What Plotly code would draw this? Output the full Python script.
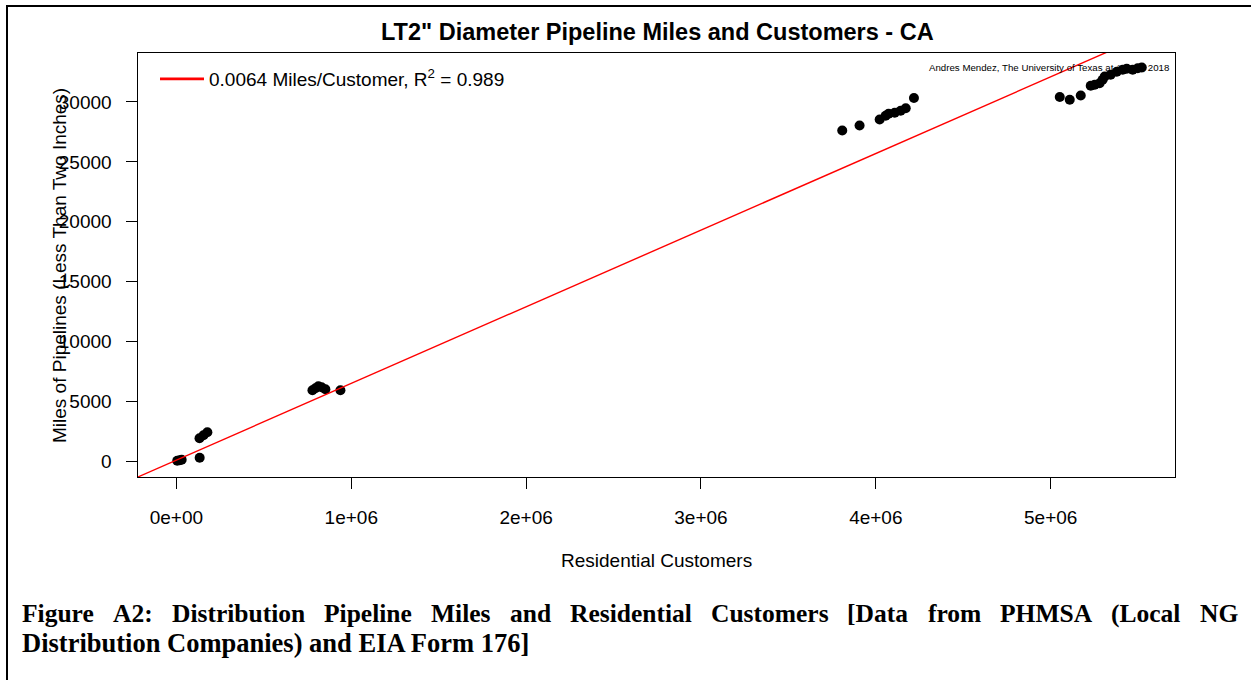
import plotly.graph_objects as go

# ---------------- data ----------------
customers = [4600, 19000, 30000, 133000, 132000, 155000, 177000,
             778000, 795000, 812000, 830000, 852000, 938000,
             3808000, 3907000, 4022000, 4056000, 4073000, 4108000, 4142000, 4171000, 4218000,
             5052000, 5109000, 5172000, 5229000, 5252000, 5280000, 5297000, 5309000,
             5343000, 5378000, 5412000, 5435000, 5469000, 5498000, 5521000]
miles = [42, 84, 125, 293, 1923, 2174, 2425,
         5936, 6104, 6271, 6187, 6020, 5936,
         27617, 28035, 28537, 28846, 29013, 29097, 29264, 29473, 30326,
         30410, 30184, 30544, 31355, 31438, 31564, 31856, 32132,
         32274, 32525, 32692, 32776, 32692, 32818, 32885]

fit_slope = 0.0064
fit_intercept = 100
fit_x = [-400000, 6000000]
fit_y = [fit_slope * v + fit_intercept for v in fit_x]

x_tickvals = [0, 1e6, 2e6, 3e6, 4e6, 5e6]
x_ticktext = ["0e+00", "1e+06", "2e+06", "3e+06", "4e+06", "5e+06"]
y_tickvals = [0, 5000, 10000, 15000, 20000, 25000, 30000]
y_ticktext = ["0", "5000", "10000", "15000", "20000", "25000", "30000"]

title = 'LT2" Diameter Pipeline Miles and Customers - CA'
x_title = "Residential Customers"
y_title = "Miles of Pipelines (Less Than Two Inches)"
legend_label = "0.0064 Miles/Customer, R<sup>2</sup> = 0.989"
credit = "Andres Mendez, The University of Texas at Austin, 2018"
caption_line1 = "Figure A2: Distribution Pipeline Miles and Residential Customers [Data from PHMSA (Local NG"
caption_line2 = "Distribution Companies) and EIA Form 176]"

# ---------------- layout helpers ----------------
W, H = 1251, 680
ML, MR, MT, MB = 138, 76, 53, 203
PW, PH = W - ML - MR, H - MT - MB


def px_x(px):
    return (px - ML) / PW


def px_y(py):
    return (H - MB - py) / PH


SANS = "Liberation Sans, Arial, sans-serif"
SERIF = "Liberation Serif, Times New Roman, serif"
NBSP = "\u00a0"

# Times-Bold glyph widths (per 1000 em) for the justified caption
TB = {' ': 250, '(': 333, ')': 333, '[': 333, ']': 333, ':': 333,
      'A': 722, 'C': 722, 'D': 722, 'E': 667, 'F': 611, 'G': 778, 'H': 778, 'I': 389,
      'L': 667, 'M': 944, 'N': 722, 'P': 611, 'R': 722, 'S': 556,
      'a': 500, 'b': 556, 'c': 444, 'd': 556, 'e': 444, 'f': 333, 'g': 500, 'h': 556,
      'i': 278, 'l': 278, 'm': 833, 'n': 556, 'o': 500, 'p': 556, 'r': 444,
      's': 389, 't': 333, 'u': 556}
for d in "0123456789":
    TB[d] = 500


def word_w(w, size):
    return sum(TB.get(c, 500) for c in w) / 1000 * size


fig = go.Figure()

fig.add_trace(go.Scatter(
    x=customers, y=miles, mode="markers",
    marker=dict(color="black", size=10, line=dict(width=0)),
    showlegend=False, hoverinfo="x+y"))

fig.add_trace(go.Scatter(
    x=fit_x, y=fit_y, mode="lines",
    line=dict(color="#ff0000", width=1.4),
    name=legend_label, showlegend=False, legendgroup="fit"))

# legend entry (thicker sample line, like the reference legend)
fig.add_trace(go.Scatter(
    x=[None], y=[None], mode="lines",
    line=dict(color="#ff0000", width=2.6),
    name=legend_label, showlegend=True, legendgroup="fit"))

annotations = [
    dict(text="<b>" + title + "</b>", x=px_x(657), y=px_y(32), xref="paper", yref="paper",
         showarrow=False, xanchor="center", yanchor="middle",
         font=dict(family=SANS, size=23.5, color="black")),
    dict(text=x_title, x=px_x(656.5), y=px_y(560), xref="paper", yref="paper",
         showarrow=False, xanchor="center", yanchor="middle",
         font=dict(family=SANS, size=19, color="black")),
    dict(text=y_title, x=px_x(59), y=px_y(266), xref="paper", yref="paper",
         showarrow=False, xanchor="center", yanchor="middle", textangle=-90,
         font=dict(family=SANS, size=19, color="black")),
    dict(text=credit, x=px_x(1171), y=px_y(67), xref="paper", yref="paper",
         showarrow=False, xanchor="right", yanchor="middle",
         font=dict(family=SANS, size=9.7, color="black")),
]

# justified caption line 1
cap_size = 25.5
words = caption_line1.split(" ")
widths = [word_w(w, cap_size) for w in words]
left, right = 22, 1238
gap = (right - left - sum(widths)) / (len(words) - 1)
xpos = left
for w, wd in zip(words, widths):
    annotations.append(dict(text="<b>" + w + "</b>", x=px_x(xpos + wd / 2), y=px_y(613),
                            xref="paper", yref="paper", showarrow=False,
                            xanchor="center", yanchor="middle",
                            font=dict(family=SERIF, size=cap_size, color="black")))
    xpos += wd + gap
annotations.append(dict(text="<b>" + caption_line2 + "</b>", x=px_x(20), y=px_y(643),
                        xref="paper", yref="paper", showarrow=False,
                        xanchor="left", yanchor="middle",
                        font=dict(family=SERIF, size=26.5, color="black")))

shapes = [
    dict(type="line", xref="paper", yref="paper", x0=px_x(7), x1=px_x(7), y0=px_y(6), y1=px_y(690),
         line=dict(color="black", width=2)),
    dict(type="line", xref="paper", yref="paper", x0=px_x(6), x1=px_x(1260), y0=px_y(6), y1=px_y(6),
         line=dict(color="black", width=2)),
]

axis_common = dict(showline=True, linecolor="black", linewidth=1, mirror=True,
                   ticks="outside", ticklen=11, tickwidth=1, tickcolor="black",
                   showgrid=False, zeroline=False, automargin=False,
                   tickfont=dict(family=SANS, size=19, color="black"))

fig.update_layout(
    width=W, height=H,
    margin=dict(l=ML, r=MR, t=MT, b=MB, pad=0),
    paper_bgcolor="white", plot_bgcolor="white",
    xaxis=dict(range=[-219700, 5711000], tickmode="array", tickvals=x_tickvals,
               ticktext=x_ticktext, ticklabelstandoff=12, **axis_common),
    yaxis=dict(range=[-1313, 34089], tickmode="array", tickvals=y_tickvals,
               ticktext=[t + NBSP * 2 for t in y_ticktext], **axis_common),
    legend=dict(x=px_x(155), y=px_y(60), xanchor="left", yanchor="top",
                itemwidth=44, bgcolor="rgba(0,0,0,0)", borderwidth=0,
                font=dict(family=SANS, size=19, color="black")),
    annotations=annotations,
    shapes=shapes,
)

fig.write_html("out.html", config={"displayModeBar": False},
               post_script="document.body.style.margin='0';")
